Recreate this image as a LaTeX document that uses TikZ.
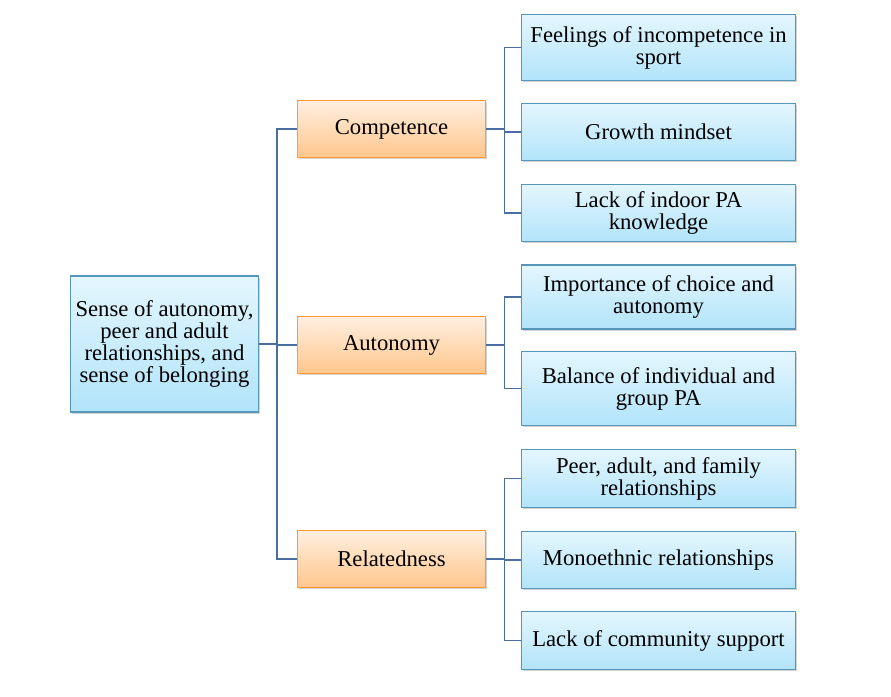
\documentclass[tikz,border=0pt]{standalone}
\usepackage{fontspec}
\setmainfont{Liberation Serif}
\usetikzlibrary{shadows}
\definecolor{lb}{RGB}{178,228,250}
\definecolor{lbt}{RGB}{228,246,253}
\definecolor{lbd}{RGB}{85,150,185}
\definecolor{ln}{RGB}{75,110,160}
\begin{document}
\begin{tikzpicture}[x=0.75pt,y=-0.75pt,
  box/.style={draw, line width=0.8pt, align=center, inner sep=1pt, font=\fontsize{17}{16.5}\selectfont,
    drop shadow={shadow xshift=1.2pt,shadow yshift=-1.2pt,opacity=0.35}},
  blue/.style={box, draw=lbd, top color=lbt, bottom color=lb},
  orange/.style={box, draw=orange!80, top color=orange!12, bottom color=orange!45, minimum width=141pt, minimum height=43pt},
  leaf/.style={blue, minimum width=205pt},
  line/.style={draw=ln, line width=0.8pt}]
\useasboundingbox (0,0) rectangle (891,696);
\node[blue, minimum width=141pt, minimum height=102pt] (root) at (164.5,344) {Sense of autonomy,\\ peer and adult\\ relationships, and\\ sense of belonging};
\node[orange] (comp) at (391.5,129) {Competence};
\node[orange] (auto) at (391.5,345) {Autonomy};
\node[orange] (rel) at (391.5,559) {Relatedness};
\node[leaf, minimum height=49pt] (l1) at (658.5,47.5) {Feelings of incompetence in\\ sport};
\node[leaf, minimum height=43pt] (l2) at (658.5,132) {Growth mindset};
\node[leaf, minimum height=43pt] (l3) at (658.5,213) {Lack of indoor PA\\ knowledge};
\node[leaf, minimum height=48pt] (l4) at (658.5,297) {Importance of choice and\\ autonomy};
\node[leaf, minimum height=55pt] (l5) at (658.5,388.5) {Balance of individual and\\ group PA};
\node[leaf, minimum height=43pt] (l6) at (658.5,478.5) {Peer, adult, and family\\ relationships};
\node[leaf, minimum height=43pt] (l7) at (658.5,560) {Monoethnic relationships};
\node[leaf, minimum height=43pt] (l8) at (658.5,640.5) {Lack of community support};
\foreach \m in {comp,auto,rel} \draw[line] (\m.west) -- ++(-20,0) |- (root.east);
\foreach \l in {l1,l2,l3} \draw[line] (\l.west) -- ++(-17,0) |- (comp.east);
\foreach \l in {l4,l5} \draw[line] (\l.west) -- ++(-17,0) |- (auto.east);
\foreach \l in {l6,l7,l8} \draw[line] (\l.west) -- ++(-17,0) |- (rel.east);
\end{tikzpicture}
\end{document}
